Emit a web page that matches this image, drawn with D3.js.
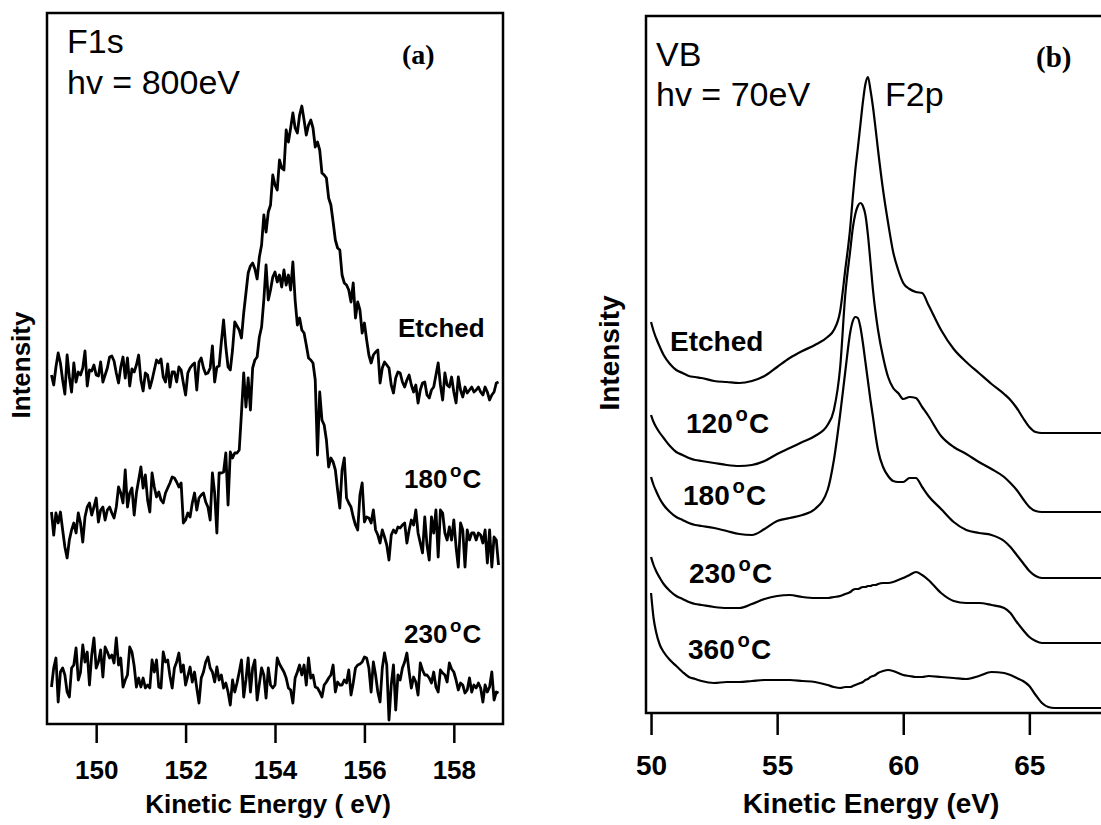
<!DOCTYPE html>
<html><head><meta charset="utf-8">
<script src="https://cdn.jsdelivr.net/npm/d3@7"></script>
<style>body{margin:0;background:#fff}</style>
</head><body>
<svg id="chart" width="1101" height="825"></svg>
<script>
// ---------- Panel (a): F1s, hv = 800 eV (energy grid 149.00 .. 159.00, step 0.05 eV) ----------
const f1sStart = 149.0;
const f1sStep = 0.05;
const f1sEtched = [
349,339,357,371,361,344,330,369,347,332,
361,342,352,349,356,373,338,354,353,359,
349,348,362,342,349,356,367,368,363,351,
341,357,367,346,366,338,355,352,359,369,
344,333,351,349,336,344,354,364,361,365,
347,342,360,337,352,352,342,357,354,341,
329,351,356,359,361,334,362,366,356,350,
351,356,378,342,357,358,382,404,377,357,
354,374,402,398,394,386,411,431,451,458,
461,455,445,467,479,509,492,512,519,549,
539,534,564,556,554,594,582,596,611,596,
591,609,618,604,589,599,604,596,577,582,
574,551,549,546,526,519,502,484,476,474,
449,441,439,434,422,441,406,422,414,391,
401,384,369,361,369,372,374,341,356,362,
359,356,339,331,346,352,351,342,337,344,
349,339,332,339,321,334,341,342,329,326,
334,337,349,361,339,324,351,339,337,347,
332,321,347,334,327,337,331,334,337,332,
334,337,332,329,337,332,324,329,332,341,342];
const f1s180 = [
212,189,211,201,212,194,177,166,184,194,
201,191,211,201,182,207,217,221,209,217,
226,202,214,217,204,214,217,211,206,217,
237,231,221,254,217,231,236,209,231,244,
257,236,249,224,212,251,237,227,232,224,
221,231,236,241,247,246,242,237,241,201,
204,211,207,221,231,214,226,229,231,222,
217,204,251,231,191,251,251,252,271,219,
272,266,271,271,274,311,351,317,346,314,
356,364,367,387,397,424,459,424,434,447,
452,442,449,437,454,439,449,434,462,424,
399,406,394,391,379,366,364,361,344,269,
332,304,299,284,257,266,262,254,234,216,
254,266,226,221,217,207,199,194,229,241,
202,207,206,201,214,194,189,181,194,187,
179,164,189,194,191,197,196,199,201,181,
194,204,199,214,191,181,171,207,179,164,
207,191,214,167,214,211,191,184,197,184,
204,177,157,201,194,157,194,184,191,191,
184,191,189,181,194,161,194,157,187,184,159];
const f1s230 = [
37,56,66,22,52,56,49,32,27,56,
59,76,44,52,79,62,72,39,69,86,
56,62,74,47,77,72,66,69,61,86,
59,66,37,44,49,77,72,58,37,46,
37,46,36,39,36,64,52,64,37,36,
72,62,64,48,36,56,62,71,52,59,
39,48,57,42,52,36,21,46,52,62,
67,56,52,42,57,44,49,36,41,32,
19,44,32,41,52,64,27,44,66,32,
56,64,24,40,56,49,26,56,39,36,
39,66,60,56,52,46,36,34,21,46,
52,59,49,59,39,66,46,49,37,36,
32,27,39,42,46,49,59,32,42,39,
39,44,41,54,29,41,56,59,60,62,
67,66,56,32,62,49,32,22,56,71,
59,4,39,59,14,49,44,56,62,71,
52,36,47,42,29,61,54,49,49,46,
41,52,37,32,54,51,49,42,61,55,
52,44,34,41,39,31,34,46,32,39,
36,41,36,22,39,32,37,52,24,32,31];
const f1sTicks = [150, 152, 154, 156, 158];

// ---------- Panel (b): valence band, hv = 70 eV ----------
const vbEnergy = [50.0,50.1,50.2,50.35,50.5,50.75,51.0,51.25,51.5,51.75,
52.0,52.5,53.0,53.5,54.0,54.5,55.0,55.5,56.0,56.5,
57.0,57.25,57.5,57.7,57.9,58.0,58.1,58.2,58.3,58.4,
58.5,58.6,58.7,58.8,58.9,59.0,59.2,59.4,59.6,59.8,
60.0,60.25,60.5,60.75,61.0,61.5,62.0,62.5,63.0,63.5,
64.0,64.25,64.5,64.75,65.0,65.25,65.5,65.75,66.0,66.5,
67.0,68.0,69.0,70.0];
const vbEtched = [391,382,375,366,358,349,343,340,337,336,
335,332,331,330,332,337,346,355,362,368,
376,383,402,443,486,516,543,565,588,611,
629,636,623,606,585,563,523,490,461,443,
430,424,421,420,408,383,364,351,340,329,
319,313,305,295,286,281,280,280,280,280,
280,280,280,280];
const vb120 = [298,291,286,280,275,267,261,258,255,253,
252,250,248,247,248,252,259,265,271,277,
288,303,346,418,463,485,499,507,510,507,
498,478,451,423,401,383,356,336,325,320,
314,316,315,306,297,277,266,259,251,244,
236,230,223,214,206,202,201,201,201,201,
201,201,201,201];
const vb180 = [236,228,222,214,208,201,196,193,190,188,
187,185,182,179,178,184,192,195,198,204,
223,253,299,341,381,392,396,395,386,370,
351,332,313,296,278,263,246,237,232,231,
231,235,235,226,217,204,191,183,180,178,
172,166,158,150,142,137,135,135,135,135,
135,135,135,135];
const vb230 = [156,148,142,135,129,122,117,114,111,109,
108,106,105,105,109,114,117,118,116,115,
115,116,117,119,121,123,124,124,125,126,
126,127,127,128,128,129,130,130,131,133,
135,138,141,138,133,120,112,110,110,108,
105,100,91,83,76,72,70,70,70,70,
70,70,70,70];
const vb360 = [120,95,81,68,61,53,47,41,36,34,
32,30,31,31,32,33,33,33,32,31,
28,26,25,26,26,27,28,29,30,31,
33,34,36,37,38,40,42,43,42,40,
38,37,36,36,37,36,35,34,37,41,
40,38,35,32,27,18,10,6,5,5,
5,5,5,5];
const vbTicks = [50, 55, 60, 65];

// ---------- drawing ----------
const svg = d3.select('#chart');
const SANS = '"Liberation Sans", Arial, Helvetica, sans-serif';
const SERIF = '"Liberation Serif", "Times New Roman", serif';

function tempLabel(g, x, y, num, size) {
  const t = g.append('text').attr('x', x).attr('y', y)
    .attr('font-family', SANS).attr('font-weight', 'bold').attr('font-size', size);
  t.append('tspan').text(num);
  t.append('tspan').attr('font-size', size * 0.72).attr('dx', size * 0.1).attr('dy', -size * 0.42).text('o');
  t.append('tspan').attr('dx', size * 0.04).attr('dy', size * 0.42).text('C');
}

// ===== Panel (a) =====
const A = {l: 47, r: 503, t: 13, b: 724};
const xa = d3.scaleLinear().domain([148.9, 159.1]).range([A.l, A.r]);
const ya = d3.scaleLinear().domain([0, 711]).range([A.b, A.t]);
const ga = svg.append('g');

const lineA = d3.line().x((d, i) => xa(f1sStart + i * f1sStep)).y(d => ya(d));
[f1sEtched, f1s180, f1s230].forEach(s => {
  ga.append('path').datum(s).attr('d', lineA)
    .attr('fill', 'none').attr('stroke', '#000').attr('stroke-width', 2.8)
    .attr('stroke-linejoin', 'round');
});

ga.append('rect').attr('x', A.l).attr('y', A.t).attr('width', A.r - A.l).attr('height', A.b - A.t)
  .attr('fill', 'none').attr('stroke', '#000').attr('stroke-width', 2.5);

const axA = ga.append('g').attr('transform', `translate(0,${A.b})`)
  .call(d3.axisBottom(xa).tickValues(f1sTicks).tickSize(19).tickSizeOuter(0).tickPadding(18));
axA.select('.domain').remove();
axA.selectAll('line').attr('stroke', '#000').attr('stroke-width', 2.5);
axA.selectAll('text').attr('font-family', SANS).attr('font-weight', 'bold').attr('font-size', 26).attr('fill', '#000');

ga.append('text').attr('x', 268).attr('y', 813).attr('text-anchor', 'middle')
  .attr('font-family', SANS).attr('font-weight', 'bold').attr('font-size', 26).text('Kinetic Energy ( eV)');
ga.append('text').attr('transform', 'translate(30,365) rotate(-90)').attr('text-anchor', 'middle')
  .attr('font-family', SANS).attr('font-weight', 'bold').attr('font-size', 26).text('Intensity');

ga.append('text').attr('x', 67).attr('y', 53).attr('font-family', SANS).attr('font-size', 34).text('F1s');
ga.append('text').attr('x', 67).attr('y', 94).attr('font-family', SANS).attr('font-size', 34).text('hv = 800eV');
ga.append('text').attr('x', 402).attr('y', 64).attr('font-family', SERIF).attr('font-weight', 'bold').attr('font-size', 28).text('(a)');

ga.append('text').attr('x', 398).attr('y', 337).attr('font-family', SANS).attr('font-weight', 'bold').attr('font-size', 26).text('Etched');
tempLabel(ga, 404, 488, '180', 26);
tempLabel(ga, 404, 643, '230', 26);

// ===== Panel (b) =====
const B = {l: 646, t: 16, b: 713};
const xb = d3.scaleLinear().domain([49.8, 70.2]).range([B.l, B.l + 20.4 * 25.22]);
const yb = d3.scaleLinear().domain([0, 697]).range([B.b, B.t]);
const gb = svg.append('g');

const lineB = d3.line().x((d, i) => xb(vbEnergy[i])).y(d => yb(d)).curve(d3.curveMonotoneX);
[vbEtched, vb120, vb180, vb230, vb360].forEach(s => {
  gb.append('path').datum(s).attr('d', lineB)
    .attr('fill', 'none').attr('stroke', '#000').attr('stroke-width', 2.2);
});

gb.append('rect').attr('x', B.l).attr('y', B.t).attr('width', xb(70.2) - B.l).attr('height', B.b - B.t)
  .attr('fill', 'none').attr('stroke', '#000').attr('stroke-width', 2.5);

const axB = gb.append('g').attr('transform', `translate(0,${B.b})`)
  .call(d3.axisBottom(xb).tickValues(vbTicks).tickSize(22).tickSizeOuter(0).tickPadding(20));
axB.select('.domain').remove();
axB.selectAll('line').attr('stroke', '#000').attr('stroke-width', 2.5);
axB.selectAll('text').attr('font-family', SANS).attr('font-weight', 'bold').attr('font-size', 28).attr('fill', '#000');

gb.append('text').attr('x', 871).attr('y', 813).attr('text-anchor', 'middle')
  .attr('font-family', SANS).attr('font-weight', 'bold').attr('font-size', 28).text('Kinetic Energy (eV)');
gb.append('text').attr('transform', 'translate(619,353) rotate(-90)').attr('text-anchor', 'middle')
  .attr('font-family', SANS).attr('font-weight', 'bold').attr('font-size', 28).text('Intensity');

gb.append('text').attr('x', 656).attr('y', 66).attr('font-family', SANS).attr('font-size', 34).text('VB');
gb.append('text').attr('x', 656).attr('y', 106).attr('font-family', SANS).attr('font-size', 34).text('hv = 70eV');
gb.append('text').attr('x', 885).attr('y', 106).attr('font-family', SANS).attr('font-size', 34).text('F2p');
gb.append('text').attr('x', 1036).attr('y', 67).attr('font-family', SERIF).attr('font-weight', 'bold').attr('font-size', 29).text('(b)');

gb.append('text').attr('x', 670).attr('y', 351).attr('font-family', SANS).attr('font-weight', 'bold').attr('font-size', 28).text('Etched');
tempLabel(gb, 686, 433, '120', 28);
tempLabel(gb, 683, 505, '180', 28);
tempLabel(gb, 689, 583, '230', 28);
tempLabel(gb, 688, 659, '360', 28);
</script>
</body></html>
